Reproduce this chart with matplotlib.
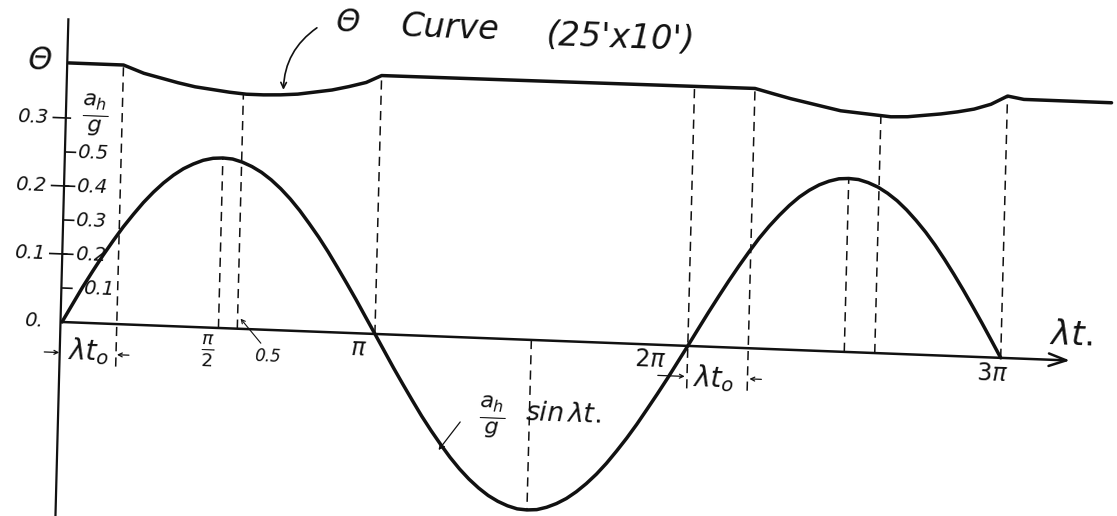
import numpy as np
import matplotlib
matplotlib.use("Agg")
import matplotlib.pyplot as plt
import matplotlib.transforms as mtransforms
from matplotlib.patches import FancyArrowPatch

# ---------------- data ----------------
# a_h/g * sin(lambda t) curve, read every pi/32 from 0 to 3*pi
sine_x = [0.000, 0.098, 0.196, 0.295, 0.393, 0.491, 0.589, 0.687, 0.785, 0.884,
          0.982, 1.080, 1.178, 1.276, 1.374, 1.473, 1.571, 1.669, 1.767, 1.865,
          1.963, 2.062, 2.160, 2.258, 2.356, 2.454, 2.553, 2.651, 2.749, 2.847,
          2.945, 3.043, 3.142, 3.240, 3.338, 3.436, 3.534, 3.632, 3.731, 3.829,
          3.927, 4.025, 4.123, 4.222, 4.320, 4.418, 4.516, 4.614, 4.712, 4.811,
          4.909, 5.007, 5.105, 5.203, 5.301, 5.400, 5.498, 5.596, 5.694, 5.792,
          5.890, 5.989, 6.087, 6.185, 6.283, 6.381, 6.480, 6.578, 6.676, 6.774,
          6.872, 6.970, 7.069, 7.167, 7.265, 7.363, 7.461, 7.560, 7.658, 7.756,
          7.854, 7.952, 8.050, 8.149, 8.247, 8.345, 8.443, 8.541, 8.639, 8.737,
          8.836, 8.934, 9.032, 9.130, 9.228, 9.327, 9.425]
sine_vals = [0.000, 0.052, 0.104, 0.153, 0.200, 0.244, 0.286, 0.324, 0.360, 0.392,
             0.420, 0.444, 0.464, 0.479, 0.491, 0.498, 0.500, 0.498, 0.490, 0.478,
             0.462, 0.441, 0.416, 0.387, 0.354, 0.317, 0.278, 0.236, 0.191, 0.145,
             0.098, 0.049, 0.000, -0.049, -0.098, -0.145, -0.191, -0.236, -0.278, -0.317,
             -0.354, -0.387, -0.416, -0.441, -0.462, -0.478, -0.490, -0.498, -0.500, -0.498,
             -0.490, -0.478, -0.462, -0.441, -0.416, -0.387, -0.354, -0.317, -0.278, -0.236,
             -0.191, -0.145, -0.098, -0.049, 0.000, 0.050, 0.100, 0.148, 0.195, 0.240,
             0.283, 0.324, 0.361, 0.394, 0.424, 0.450, 0.471, 0.488, 0.500, 0.508,
             0.510, 0.508, 0.500, 0.488, 0.471, 0.450, 0.424, 0.394, 0.361, 0.324,
             0.283, 0.240, 0.195, 0.148, 0.100, 0.050, 0.000]

# Theta curve (25' x 10'), theta units
theta_x = [0.00, 0.55, 0.756, 0.929, 1.102, 1.274, 1.447, 1.620, 1.791, 1.963,
           2.134, 2.305, 2.477, 2.648, 2.818, 2.989, 3.142,
           6.89, 7.082, 7.251, 7.420, 7.587, 7.756, 7.924, 8.092, 8.260,
           8.427, 8.594, 8.761, 8.928, 9.094, 9.261, 9.426, 9.590, 10.47]
theta_vals = [0.381, 0.381, 0.370, 0.364, 0.358, 0.353, 0.350, 0.347, 0.345, 0.345,
              0.346, 0.348, 0.352, 0.356, 0.362, 0.369, 0.380,
              0.382, 0.375, 0.369, 0.364, 0.359, 0.354, 0.352, 0.350, 0.348,
              0.349, 0.352, 0.355, 0.359, 0.364, 0.372, 0.385, 0.381, 0.381]

theta_ticks = [0.0, 0.1, 0.2, 0.3]
theta_tick_labels = ["0.", "0.1", "0.2", "0.3"]
accel_ticks = [0.1, 0.2, 0.3, 0.4, 0.5]
accel_tick_labels = ["0.1", "0.2", "0.3", "0.4", "0.5"]

x_tick_pos = [np.pi / 2, np.pi, 2 * np.pi, 3 * np.pi]
x_tick_labels = [r"$\frac{\pi}{2}$", r"$\pi$", r"$2\pi$", r"$3\pi$"]

lambda_t0_first = 0.55          # end of first flat part
lambda_t0_second = 6.89         # 2*pi + lambda t0
theta_min_x = [1.76, 8.16]      # guide lines under the theta dips
sine_peak_x = [np.pi / 2, 3 * np.pi / 2, 5 * np.pi / 2]
THETA_SCALE = 2.0               # 0.1 of theta = 0.2 of a_h/g on the drawing

# ---------------- figure / frame ----------------
W, H = 1117, 516
fig = plt.figure(figsize=(W / 100, H / 100), dpi=100)
fig.patch.set_facecolor("white")
ax = fig.add_axes([0, 0, 1, 1])
ax.set_axis_off()
PX_RAD, PX_UNIT = 99.6, 340.0
X0, Y0 = 62.0, 194.0
ax.set_xlim(-X0 / PX_RAD, (W - X0) / PX_RAD)
ax.set_ylim(-Y0 / PX_UNIT, (H - Y0) / PX_UNIT)
# the hand-drawn sheet is slightly skewed: horizontals fall to the right,
# verticals lean to the right
skew = (mtransforms.Affine2D().translate(-X0, -Y0)
        + mtransforms.Affine2D(np.array([[1.0, 0.026, 0.0],
                                         [-0.0382, 1.0, 0.0],
                                         [0.0, 0.0, 1.0]]))
        + mtransforms.Affine2D().translate(X0, Y0))
tr = ax.transData + skew
TILT = -2.0

INK = "#111111"
hand = dict(family="DejaVu Sans", style="italic", color=INK)


def txt(x, y, s, size, ha="center", va="center", **kw):
    ax.text(x, y, s, transform=tr, rotation=TILT, rotation_mode="anchor",
            ha=ha, va=va, fontsize=size, **hand, **kw)


def arrow(p0, p1, rad=0.0, lw=1.0, ms=9, style="->"):
    a = FancyArrowPatch(p0, p1, transform=tr, arrowstyle=style,
                        connectionstyle=f"arc3,rad={rad}", mutation_scale=ms,
                        lw=lw, color=INK, shrinkA=0, shrinkB=0)
    ax.add_patch(a)


theta_y = THETA_SCALE * np.array(theta_vals)

# axes
ax.plot([-0.015, -0.015], [-0.62, 0.89], color=INK, lw=1.6, transform=tr)
arrow((0, 0), (10.12, 0), lw=1.8, ms=18, style="->,head_length=0.7,head_width=0.25")

# curves
ax.plot(sine_x, sine_vals, color=INK, lw=2.5, transform=tr,
        solid_joinstyle="round", solid_capstyle="round")
ax.plot(theta_x, theta_y, color=INK, lw=2.5, transform=tr,
        solid_joinstyle="round", solid_capstyle="round")

# dashed guide lines
dash = dict(color=INK, lw=1.1, ls=(0, (6, 4)), transform=tr)
below = -0.125
for xv in [lambda_t0_first, 2 * np.pi, lambda_t0_second]:
    ax.plot([xv, xv], [below, THETA_SCALE * np.interp(xv, theta_x, theta_vals)], **dash)
for xv in theta_min_x + [np.pi, 3 * np.pi]:
    ax.plot([xv, xv], [0, THETA_SCALE * np.interp(xv, theta_x, theta_vals)], **dash)
for xv in sine_peak_x:
    ax.plot([xv, xv], [0, np.interp(xv, sine_x, sine_vals)], **dash)

# y-axis ticks and labels
for v, lab in zip(theta_ticks, theta_tick_labels):
    yv = THETA_SCALE * v
    if v > 0:
        ax.plot([-0.14, 0.03], [yv, yv], color=INK, lw=1.2, transform=tr)
    txt(-0.19, yv, lab, 14, ha="right")
for v, lab in zip(accel_ticks, accel_tick_labels):
    ax.plot([0.0, 0.09], [v, v], color=INK, lw=1.2, transform=tr)
    xl = 0.20 if v < 0.15 else 0.11
    txt(xl, v, lab, 14, ha="left")

txt(-0.29, 0.765, "Θ", 22)
txt(0.277, 0.61, r"$\frac{a_h}{g}$", 23)

# x labels
txt(1.47, -0.069, x_tick_labels[0], 19)
txt(2.98, -0.043, x_tick_labels[1], 17)
txt(5.91, -0.043, x_tick_labels[2], 17)
txt(9.34, -0.046, x_tick_labels[3], 17)
txt(10.12, 0.075, r"$\lambda t.$", 24)

# lambda t0 markers
txt(0.27, -0.082, r"$\lambda t_o$", 20)
arrow((-0.17, -0.09), (-0.02, -0.09), lw=0.9, ms=7)
arrow((0.68, -0.09), (0.56, -0.09), lw=0.9, ms=7)
txt(6.55, -0.092, r"$\lambda t_o$", 20)
arrow((5.99, -0.09), (6.26, -0.09), lw=0.9, ms=7)
arrow((7.03, -0.09), (6.91, -0.09), lw=0.9, ms=7)

# 0.5 marker
txt(2.07, -0.077, "0.5", 12)
arrow((2.00, -0.04), (1.79, 0.03), lw=0.8, ms=7)

# sine label
txt(4.34, -0.231, r"$\frac{a_h}{g}$", 23)
txt(5.05, -0.214, r"$sin\,\lambda t.$", 19)
arrow((4.02, -0.249), (3.81, -0.334), lw=0.9, ms=9)

# theta curve title
txt(2.79, 0.911, "Θ", 22)
txt(3.82, 0.908, "Curve", 24)
txt(5.53, 0.898, "(25'x10')", 24)
arrow((2.48, 0.893), (2.16, 0.707), rad=0.25, lw=1.2, ms=10)

fig.savefig("out.png", dpi=100, facecolor="white")
